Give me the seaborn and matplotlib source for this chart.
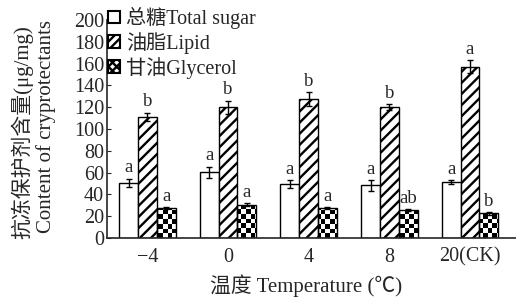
import numpy as np
import pandas as pd
import matplotlib
matplotlib.use("Agg")
import matplotlib.pyplot as plt
import seaborn as sns
from matplotlib.patches import Patch

# values
temps = ["−4", "0", "4", "8", "20(CK)"]
sugar = [50.5, 60.5, 49.5, 48.5, 51.5]
sugar_err = [4, 5, 4, 5, 2]
lipid = [111, 120, 127.5, 120, 157]
lipid_err = [4, 6, 6, 3, 6]
glycerol = [27.5, 30.5, 27.5, 25.5, 22.5]
glycerol_err = [1, 1.5, 1, 1, 1]
sugar_sig = ["a", "a", "a", "a", "a"]
lipid_sig = ["b", "b", "b", "b", "a"]
glycerol_sig = ["a", "a", "a", "ab", "b"]
names = ["总糖Total sugar", "油脂Lipid", "甘油Glycerol"]

sns.set_style("ticks")
plt.rcParams["font.family"] = ["Liberation Serif", "Noto Sans CJK SC"]
plt.rcParams["hatch.linewidth"] = 1.7
plt.rcParams["axes.unicode_minus"] = False

df = pd.DataFrame({
    "temp": temps * 3,
    "comp": [names[0]] * 5 + [names[1]] * 5 + [names[2]] * 5,
    "val": sugar + lipid + glycerol,
})

fig = plt.figure(figsize=(5.16, 2.99), dpi=100)
ax = fig.add_axes([107 / 516, 61 / 299, 409 / 516, 218 / 299])

sns.barplot(data=df, x="temp", y="val", hue="comp", order=temps, hue_order=names,
            palette=["white", "white", "white"], width=0.7, errorbar=None,
            edgecolor="black", linewidth=1.0, legend=False, ax=ax)

ax.set_xlim(-0.5, 4.57)
ax.set_ylim(0, 200)

errs = [sugar_err, lipid_err, glycerol_err]
vals = [sugar, lipid, glycerol]
sigs = [sugar_sig, lipid_sig, glycerol_sig]
hatches = ["", "///", ""]

# checker texture for the glycerol bars
ny, nx = 46, 88
checker = (np.indices((ny, nx)).sum(axis=0) % 2).astype(float)

bar_groups = list(ax.containers)
for k, cont in enumerate(bar_groups):
    xs = []
    for p in cont.patches:
        p.set_hatch(hatches[k])
        xs.append(p.get_x() + p.get_width() / 2)
        if k == 2:
            p.set_facecolor("none")
            im = ax.imshow(checker, extent=(-0.5, 4.57, 0, 200), cmap="gray",
                           aspect="auto", interpolation="nearest", zorder=0.5)
            im.set_clip_path(p)
    ax.errorbar(xs, vals[k], yerr=errs[k], fmt="none", ecolor="black",
                elinewidth=1.0, capsize=2.5, capthick=1.0, zorder=3)
    for x, v, e, s in zip(xs, vals[k], errs[k], sigs[k]):
        ax.text(x, v + e + 2, s, ha="center", va="bottom", fontsize=13.5)

ax.set_xlim(-0.5, 4.57)
ax.set_ylim(0, 200)
ax.set_yticks(range(0, 201, 20))
ax.tick_params(axis="y", direction="in", length=3, labelsize=14.5, pad=2)
ax.tick_params(axis="x", length=0, labelsize=14.5, pad=7)
ax.set_xlabel("")
ax.set_ylabel("")
sns.despine(ax=ax, top=True, right=True)
ax.spines["left"].set_linewidth(1.2)
ax.spines["bottom"].set_linewidth(1.2)

handles = [
    Patch(facecolor="white", edgecolor="black", linewidth=1.5),
    Patch(facecolor="white", edgecolor="black", hatch="////", linewidth=1.5),
    Patch(facecolor="white", edgecolor="black", hatch="xxxx", linewidth=1.5),
]
fig.legend(handles, names, loc="upper left", bbox_to_anchor=(108 / 516, 1 - 7 / 299),
           frameon=False, fontsize=14.5, handlelength=0.6, handleheight=0.6,
           handletextpad=0.3, labelspacing=0.15, borderpad=0, borderaxespad=0)

fig.text(306 / 516, 13 / 299, "温度 Temperature (℃)", ha="center", va="center", fontsize=15)
fig.text(22 / 516, 1 - 132 / 299, "抗冻保护剂含量(μg/mg)", rotation=90,
         ha="center", va="center", fontsize=15)
fig.text(46 / 516, 1 - 127 / 299, "Content of cryprotectants", rotation=90,
         ha="center", va="center", fontsize=15)

fig.savefig("out.png", dpi=100)
